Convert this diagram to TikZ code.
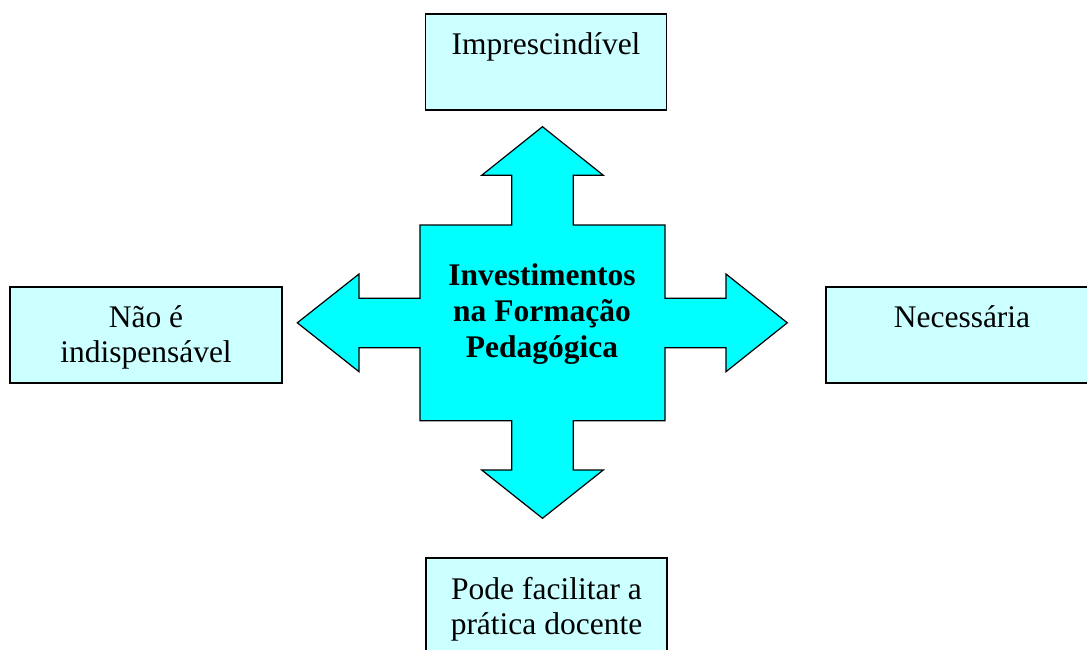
\documentclass[tikz,border=0pt]{standalone}
\usepackage{fontspec}
\setmainfont{Liberation Serif}
\definecolor{boxfill}{HTML}{CCFFFF}
\definecolor{arrowfill}{HTML}{00FFFF}
\begin{document}
\begin{tikzpicture}[x=1pt,y=-1pt,
  box/.style={draw=black,line width=1.2pt,fill=boxfill,rectangle,inner sep=0pt},
  lbl/.style={anchor=base,align=center,inner sep=0pt,font=\fontsize{31.5pt}{35pt}\selectfont},
  ctr/.style={anchor=base,align=center,inner sep=0pt,font=\fontsize{31.5pt}{36pt}\selectfont\bfseries}]
\useasboundingbox (0,0) rectangle (1087,650);
\clip (0,0) rectangle (1087,650);
\fill[white] (0,0) rectangle (1087,650);
% boxes
\node[box,minimum width=241pt,minimum height=96pt] (top) at (546,62) {};
\node[box,minimum width=272pt,minimum height=96pt] (left) at (146,335) {};
\node[box,minimum width=272pt,minimum height=96pt] (right) at (962,335) {};
\node[box,minimum width=241pt,minimum height=120pt] (bottom) at (546.5,618) {};
% box texts
\node[lbl] (toptxt) at ([yshift=-41pt]top.north) {Imprescindível};
\node[lbl] (lefttxt) at ([yshift=-41pt]left.north) {Não é};
\node[lbl] (lefttxt2) at ([yshift=-76pt]left.north) {indispensável};
\node[lbl] (righttxt) at ([yshift=-41pt]right.north) {Necessária};
\node[lbl] (bottxt) at ([yshift=-42pt]bottom.north) {Pode facilitar a};
\node[lbl] (bottxt2) at ([yshift=-77pt]bottom.north) {prática docente};
% four-way arrow
\draw[line width=1.2pt,fill=arrowfill,line join=miter]
 (542.5,126.7) -- (603.3,175.3) -- (573.3,175.3) -- (573.3,225) -- (665,225)
 -- (665,298.3) -- (726,298.3) -- (726,274) -- (787.3,322.8) -- (726,371.7)
 -- (726,347.7) -- (665,347.7) -- (665,420.7) -- (573.3,420.7) -- (573.3,470)
 -- (603.3,470) -- (542.5,518.3) -- (481.7,470) -- (511.7,470) -- (511.7,420.7)
 -- (420,420.7) -- (420,347.7) -- (359,347.7) -- (359,371.7) -- (297.3,322.8)
 -- (359,274) -- (359,298.3) -- (420,298.3) -- (420,225) -- (511.7,225)
 -- (511.7,175.3) -- (481.7,175.3) -- cycle;
\node[ctr] (c1) at (542,285) {Investimentos};
\node[ctr] (c2) at (542,321.5) {na Formação};
\node[ctr] (c3) at (542,357.5) {Pedagógica};
\end{tikzpicture}
\end{document}
